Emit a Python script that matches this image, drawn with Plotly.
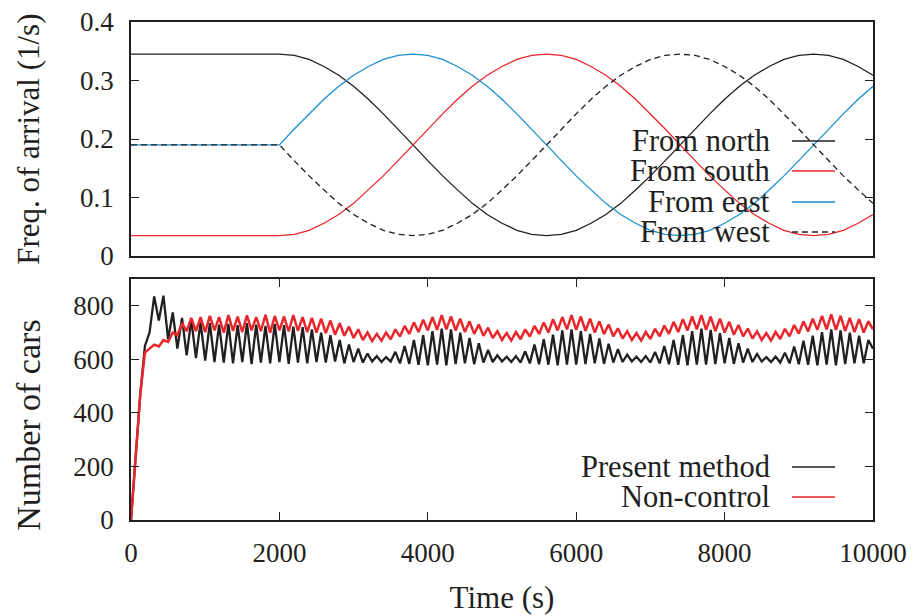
import numpy as np
import plotly.graph_objects as go

# ---------------- data: top panel (arrival frequency, 1/s) ----------------
freq_time = [0] + list(range(2000, 10001, 200))
from_north = [0.345, 0.345, 0.343, 0.336, 0.324, 0.309, 0.290, 0.268, 0.243, 0.217, 0.190,
              0.163, 0.137, 0.113, 0.090, 0.071, 0.056, 0.044, 0.037, 0.035, 0.037,
              0.044, 0.056, 0.071, 0.090, 0.113, 0.137, 0.163, 0.190, 0.217, 0.243,
              0.268, 0.290, 0.309, 0.324, 0.336, 0.343, 0.345, 0.343, 0.336, 0.324, 0.309]
from_south = [0.035, 0.035, 0.037, 0.044, 0.056, 0.071, 0.090, 0.113, 0.137, 0.163, 0.190,
              0.217, 0.243, 0.268, 0.290, 0.309, 0.324, 0.336, 0.343, 0.345, 0.343,
              0.336, 0.324, 0.309, 0.290, 0.268, 0.243, 0.217, 0.190, 0.163, 0.137,
              0.113, 0.090, 0.071, 0.056, 0.044, 0.037, 0.035, 0.037, 0.044, 0.056, 0.071]
from_east = [0.190, 0.190, 0.217, 0.243, 0.268, 0.290, 0.309, 0.324, 0.336, 0.343, 0.345,
             0.343, 0.336, 0.324, 0.309, 0.290, 0.268, 0.243, 0.217, 0.190, 0.163,
             0.137, 0.113, 0.090, 0.071, 0.056, 0.044, 0.037, 0.035, 0.037, 0.044,
             0.056, 0.071, 0.090, 0.113, 0.137, 0.163, 0.190, 0.217, 0.243, 0.268, 0.290]
from_west = [0.190, 0.190, 0.163, 0.137, 0.113, 0.090, 0.071, 0.056, 0.044, 0.037, 0.035,
             0.037, 0.044, 0.056, 0.071, 0.090, 0.113, 0.137, 0.163, 0.190, 0.217,
             0.243, 0.268, 0.290, 0.309, 0.324, 0.336, 0.343, 0.345, 0.343, 0.336,
             0.324, 0.309, 0.290, 0.268, 0.243, 0.217, 0.190, 0.163, 0.137, 0.113, 0.090]

# ---------------- data: bottom panel (number of cars) ----------------
cars_time = np.linspace(0, 10000, 161)
present_method = [
    0, 250, 470, 650, 700, 835, 745, 838, 675, 775,
    640, 755, 615, 748, 605, 738, 595, 735, 590, 730,
    588, 732, 585, 728, 590, 735, 582, 730, 588, 725,
    585, 732, 590, 728, 583, 722, 588, 720, 585, 712,
    590, 700, 588, 690, 592, 672, 585, 655, 590, 640,
    588, 622, 592, 612, 590, 608, 592, 628, 585, 650,
    583, 672, 580, 690, 578, 705, 580, 715, 578, 712,
    582, 700, 585, 680, 582, 660, 588, 635, 590, 615,
    592, 610, 590, 612, 588, 630, 585, 655, 582, 675,
    580, 692, 578, 708, 580, 712, 580, 705, 582, 695,
    585, 678, 583, 658, 588, 638, 590, 618, 592, 610,
    590, 612, 588, 628, 585, 650, 582, 672, 580, 690,
    578, 705, 580, 715, 580, 710, 582, 698, 585, 680,
    583, 660, 588, 640, 590, 620, 592, 608, 590, 610,
    588, 625, 585, 648, 582, 670, 580, 688, 578, 702,
    580, 712, 578, 708, 582, 700, 585, 688, 585, 672,
    640]
non_control = [
    0, 250, 470, 625, 640, 655, 648, 672, 665, 700,
    690, 735, 705, 755, 705, 758, 702, 762, 708, 758,
    700, 765, 706, 760, 702, 764, 708, 758, 705, 766,
    700, 762, 708, 760, 704, 765, 706, 758, 702, 755,
    700, 752, 698, 745, 692, 735, 688, 722, 680, 712,
    672, 700, 668, 695, 670, 700, 675, 712, 685, 725,
    695, 738, 702, 748, 708, 758, 710, 765, 712, 760,
    708, 752, 702, 742, 695, 730, 688, 718, 680, 705,
    672, 698, 670, 702, 675, 712, 685, 725, 695, 738,
    700, 750, 708, 758, 712, 765, 710, 760, 706, 752,
    700, 742, 694, 730, 686, 716, 678, 705, 672, 698,
    670, 702, 676, 714, 686, 726, 695, 740, 702, 750,
    708, 760, 712, 765, 710, 760, 705, 752, 700, 740,
    692, 728, 686, 715, 678, 704, 672, 698, 670, 702,
    676, 714, 686, 728, 696, 742, 704, 752, 710, 762,
    712, 768, 710, 762, 706, 755, 702, 750, 700, 742,
    712]

freq_ticks = [0, 0.1, 0.2, 0.3, 0.4]
freq_ticktext = ["0", "0.1", "0.2", "0.3", "0.4"]
cars_ticks = [0, 200, 400, 600, 800]
time_ticks = [0, 2000, 4000, 6000, 8000, 10000]
time_ticktext = ["0", "2000", "4000", "6000", "8000", "10000"]

# ---------------- style ----------------
FONT = "Liberation Serif, Times New Roman, Times, serif"
TXT = "#231f20"
BLACK = "#231f20"
RED = "#e8262b"
BLUE = "#1b8fcf"

top_series = [
    ("From north", from_north, BLACK, "solid"),
    ("From south", from_south, RED, "solid"),
    ("From east", from_east, BLUE, "solid"),
    ("From west", from_west, BLACK, "6px,4px"),
]
bottom_series = [
    ("Present method", present_method, BLACK, 2.3),
    ("Non-control", non_control, RED, 2.5),
]

fig = go.Figure()
for name, vals, col, dash in top_series:
    fig.add_trace(go.Scatter(x=freq_time, y=vals, mode="lines", name=name,
                             line=dict(color=col, width=1.3, dash=dash),
                             xaxis="x", yaxis="y", showlegend=False, hoverinfo="skip"))
for name, vals, col, w in bottom_series:
    fig.add_trace(go.Scatter(x=cars_time, y=vals, mode="lines", name=name,
                             line=dict(color=col, width=w),
                             xaxis="x2", yaxis="y2", showlegend=False, hoverinfo="skip"))

axis_common = dict(showline=True, linecolor=BLACK, linewidth=1.6, showgrid=False,
                   zeroline=False, tickcolor=BLACK, tickwidth=1.2, automargin=False,
                   tickfont=dict(family=FONT, size=27, color=TXT))

fig.update_layout(
    template="none",
    width=913, height=616,
    margin=dict(l=131, r=40, t=22, b=96, pad=0),
    paper_bgcolor="white", plot_bgcolor="white",
    font=dict(family=FONT, color=TXT),
    xaxis=dict(domain=[0, 1], anchor="y", range=[0, 10000], mirror=True,
               ticks="", showticklabels=False, **axis_common),
    yaxis=dict(domain=[0.5301, 1], anchor="x", range=[0, 0.4], tickvals=freq_ticks,
               ticktext=freq_ticktext, ticks="inside", ticklen=8, mirror="allticks",
               ticklabelstandoff=10, **axis_common),
    xaxis2=dict(domain=[0, 1], anchor="y2", range=[0, 10000], tickvals=time_ticks,
                ticktext=time_ticktext, ticks="inside", ticklen=8, mirror="allticks",
                ticklabelstandoff=8,
                title=dict(text="Time (s)", font=dict(family=FONT, size=31, color=TXT), standoff=19),
                **axis_common),
    yaxis2=dict(domain=[0, 0.4839], anchor="x2", range=[0, 900], tickvals=cars_ticks,
                ticks="inside", ticklen=8, mirror="allticks", ticklabelstandoff=10,
                **axis_common),
)

# y-axis titles
fig.add_annotation(text="Freq. of arrival (1/s)", textangle=-90, xref="paper", yref="paper",
                   x=-0.139, y=(520 - 139) / 498, xanchor="center", yanchor="middle",
                   showarrow=False, font=dict(family=FONT, size=31, color=TXT))
fig.add_annotation(text="Number of cars", textangle=-90, xref="paper", yref="paper",
                   x=-0.139, y=(520 - 425) / 498, xanchor="center", yanchor="middle",
                   showarrow=False, font=dict(family=FONT, size=34, color=TXT))

# gnuplot-style keys: text right-aligned, sample line to the right
text_x = (772 - 131) / 742
line_x0 = (792 - 131) / 742
line_x1 = (835 - 131) / 742
top_rows = [0.4915, 0.3632, 0.2308, 0.1026]
for (name, _, col, dash), yy in zip(top_series, top_rows):
    fig.add_annotation(text=name, xref="paper", yref="y domain", x=text_x, y=yy,
                       xanchor="right", yanchor="middle", showarrow=False,
                       font=dict(family=FONT, size=30.5, color=TXT))
    fig.add_shape(type="line", xref="paper", yref="y domain", x0=line_x0, x1=line_x1,
                  y0=yy, y1=yy, line=dict(color=col, width=1.3, dash=dash))
bottom_rows = [0.2199, 0.0954]
for (name, _, col, _w), yy in zip(bottom_series, bottom_rows):
    fig.add_annotation(text=name, xref="paper", yref="y2 domain", x=text_x, y=yy,
                       xanchor="right", yanchor="middle", showarrow=False,
                       font=dict(family=FONT, size=30.5, color=TXT))
    fig.add_shape(type="line", xref="paper", yref="y2 domain", x0=line_x0, x1=line_x1,
                  y0=yy, y1=yy, line=dict(color=col, width=1.3))

fig.write_html("out.html", config={"displayModeBar": False},
               post_script="document.body.style.margin='0';")
